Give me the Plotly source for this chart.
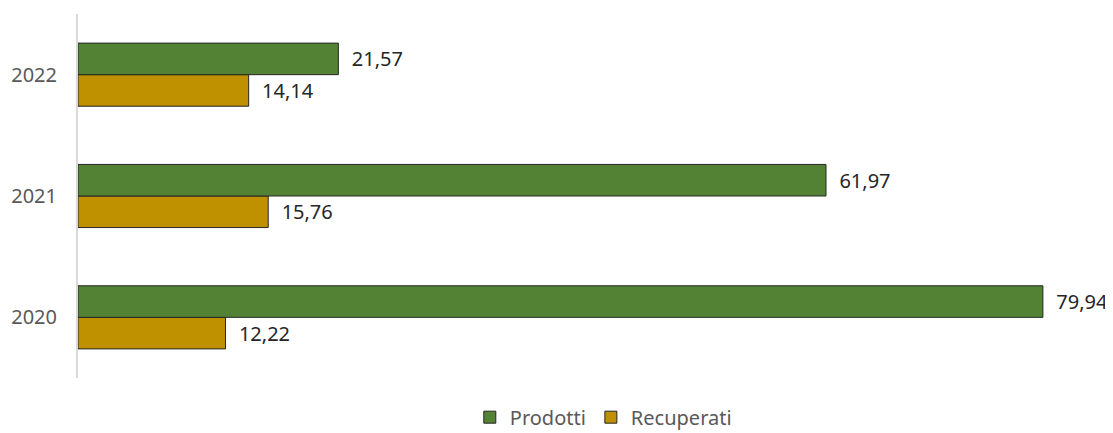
import plotly.graph_objects as go

anni = ["2020", "2021", "2022"]
prodotti = [79.94, 61.97, 21.57]
recuperati = [12.22, 15.76, 14.14]

fig = go.Figure()
# in orizzontale l'ultima traccia va in basso, quindi Recuperati prima
fig.add_trace(go.Bar(
    y=anni, x=recuperati, name="Recuperati", orientation="h",
    marker=dict(color="#BF9000", line=dict(color="#262626", width=1)),
    texttemplate="  %{x:.2f}", textposition="outside", constraintext="none",
    textfont=dict(size=20, color="#262626"), cliponaxis=False,
))
fig.add_trace(go.Bar(
    y=anni, x=prodotti, name="Prodotti", orientation="h",
    marker=dict(color="#548235", line=dict(color="#262626", width=1)),
    texttemplate="  %{x:.2f}", textposition="outside", constraintext="none",
    textfont=dict(size=20, color="#262626"), cliponaxis=False,
))

# la pagina aggiunge 8px di margine al body: compenso qui
fig.update_layout(
    width=1113, height=433,
    margin=dict(l=70, r=17, t=6, b=63),
    barmode="group", bargap=0.48, bargroupgap=0,
    separators=",.",
    font=dict(family="Noto Sans, Open Sans, sans-serif", color="#595959"),
    plot_bgcolor="white", paper_bgcolor="white",
    legend=dict(orientation="h", x=0.512, xanchor="center",
                yref="container", y=0.055, yanchor="middle",
                traceorder="reversed", font=dict(size=20, color="#595959")),
    showlegend=True,
)
fig.update_xaxes(range=[0, 85], visible=False)
fig.update_yaxes(
    categoryorder="array", categoryarray=anni,
    showline=True, linecolor="#D9D9D9", linewidth=2,
    showgrid=False, ticks="", ticklabelstandoff=15, automargin=False,
    tickfont=dict(size=20, color="#595959"),
)

fig.write_html("out.html")
